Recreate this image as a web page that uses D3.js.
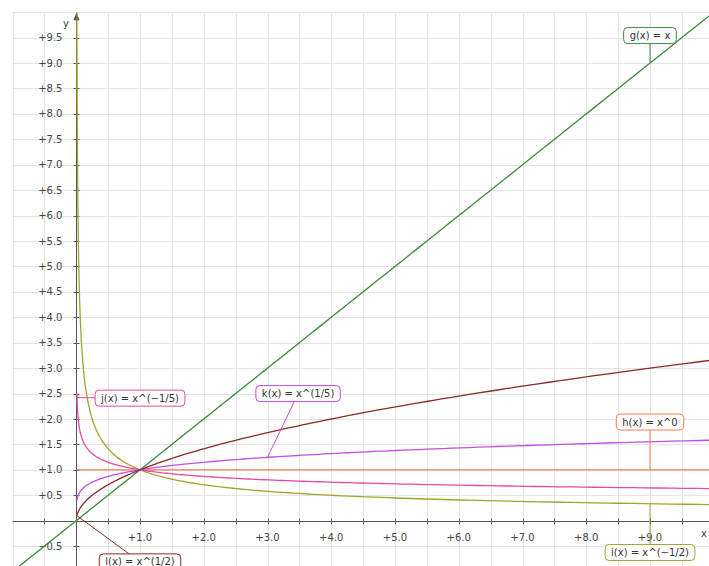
<!DOCTYPE html>
<html><head><meta charset="utf-8">
<script src="https://cdn.jsdelivr.net/npm/d3@7"></script>
<style>
html,body{margin:0;padding:0;background:#fff;}
svg{display:block;font-family:"DejaVu Sans",sans-serif;}
</style></head>
<body>
<svg id="chart" width="709" height="566"></svg>
<script>
// ---- data ----
const names     = ["g", "h", "i", "j", "k", "l"];
const exponents = [1, 0, -0.5, -0.2, 0.2, 0.5];
const labels    = ["g(x) = x", "h(x) = x^0", "i(x) = x^(\u22121/2)", "j(x) = x^(\u22121/5)", "k(x) = x^(1/5)", "l(x) = x^(1/2)"];
const colors    = ["#3c8a3c", "#ef7f55", "#a3a332", "#e64aa2", "#c24ee2", "#8a2a2a"];
const anchorX   = [9, 9, 9, 0.012, 3, 0.01];      // point on curve the label points to (data x)
const labelX    = [9, 9, 9, 1.0, 3.48, 1.0];       // label box centre (data units)
const labelY    = [9.54, 1.94, -0.625, 2.41, 2.5, -0.81];
const xTickLabels = [1, 2, 3, 4, 5, 6, 7, 8, 9];
const yTickLabels = [-0.5, 0.5, 1, 1.5, 2, 2.5, 3, 3.5, 4, 4.5, 5, 5.5, 6, 6.5, 7, 7.5, 8, 8.5, 9, 9.5];
const xMin = 0.01, xMax = 10;

// ---- layout ----
const W = 709, H = 566;
const svg = d3.select("#chart");
const x = d3.scaleLinear().domain([-1, 10]).range([12.5, 12.5 + 11 * 63.75]);
const y = d3.scaleLinear().domain([-1, 10]).range([571.55, 12.2]);
const gridSteps = d3.range(-1, 10.01, 0.5);

// grid
const grid = svg.append("g").attr("stroke", "#e4e4e4").attr("stroke-width", 1);
grid.selectAll("line.v").data(gridSteps).join("line")
  .attr("x1", d => Math.round(x(d)) + 0.5).attr("x2", d => Math.round(x(d)) + 0.5)
  .attr("y1", y(10)).attr("y2", H);
grid.selectAll("line.h").data(gridSteps).join("line")
  .attr("y1", d => Math.round(y(d)) + 0.5).attr("y2", d => Math.round(y(d)) + 0.5)
  .attr("x1", x(-1)).attr("x2", W);

// axes
const axisColor = "#555";
const x0 = Math.round(x(0)) + 0.5, y0 = Math.round(y(0)) + 0.5;
svg.append("line").attr("x1", x(-1)).attr("x2", W).attr("y1", y0).attr("y2", y0).attr("stroke", axisColor);
svg.append("line").attr("x1", x0).attr("x2", x0).attr("y1", H).attr("y2", y(10) + 4).attr("stroke", axisColor);
svg.append("path").attr("d", `M${x0},${y(10)} l-3,8 l6,0 z`).attr("fill", "#444");

const tickSteps = d3.range(-0.5, 9.51, 0.5).filter(d => d !== 0);
svg.append("g").selectAll("line").data(tickSteps).join("line")
  .attr("x1", d => Math.round(x(d)) + 0.5).attr("x2", d => Math.round(x(d)) + 0.5)
  .attr("y1", y0 - 3).attr("y2", y0 + 3).attr("stroke", axisColor);
svg.append("g").selectAll("line").data(tickSteps).join("line")
  .attr("y1", d => Math.round(y(d)) + 0.5).attr("y2", d => Math.round(y(d)) + 0.5)
  .attr("x1", x0 - 3).attr("x2", x0 + 3).attr("stroke", axisColor);

const fmt = d3.format("+.1f");
svg.append("g").attr("font-size", 10).attr("fill", "#444").attr("text-anchor", "middle")
  .selectAll("text").data(xTickLabels).join("text")
  .attr("x", d => x(d)).attr("y", y0 + 19).text(fmt);
svg.append("g").attr("font-size", 10).attr("fill", "#444").attr("text-anchor", "end")
  .selectAll("text").data(yTickLabels).join("text")
  .attr("x", x0 - 14).attr("y", d => y(d)).attr("dy", "0.35em").text(fmt);
svg.append("text").attr("x", 66).attr("y", 27).attr("font-size", 10).attr("fill", "#444")
  .attr("text-anchor", "middle").text("y");
svg.append("text").attr("x", 701).attr("y", 537).attr("font-size", 10).attr("fill", "#444").text("x");

// curves
svg.append("clipPath").attr("id", "clip").append("rect")
  .attr("x", x(-1)).attr("y", y(10)).attr("width", W - x(-1)).attr("height", H - y(10));
const samples = Array.from(new Set([
  ...d3.range(-1, 0.0001, 0.05),
  ...d3.range(-2, 1.0001, 0.01).map(e => Math.pow(10, e))
])).sort((a, b) => a - b);
const line = d3.line().x(d => x(d[0])).y(d => y(d[1]));
const curves = svg.append("g").attr("clip-path", "url(#clip)").attr("fill", "none").attr("stroke-width", 1.3);
names.forEach((n, i) => {
  const p = exponents[i];
  const xs = samples.filter(v => (p === 1 ? v >= -1 : v >= xMin) && v <= xMax);
  curves.append("path").attr("d", line(xs.map(v => [v, Math.pow(v, p)]))).attr("stroke", colors[i]);
});

// labels
const lab = svg.append("g").attr("font-size", 10);
names.forEach((n, i) => {
  const ax = x(anchorX[i]), ay = y(Math.pow(anchorX[i], exponents[i]));
  const cx = x(labelX[i]), cy = y(labelY[i]);
  lab.append("line").attr("x1", ax).attr("y1", ay).attr("x2", cx).attr("y2", cy)
    .attr("stroke", colors[i]).attr("stroke-width", 1);
  const g = lab.append("g");
  const rect = g.append("rect");
  const t = g.append("text").attr("x", cx).attr("y", cy).attr("dy", "0.35em")
    .attr("text-anchor", "middle").attr("fill", "#333").text(labels[i]);
  const tw = t.node().getComputedTextLength();
  rect.attr("x", cx - tw / 2 - 6).attr("y", cy - 8).attr("width", tw + 12).attr("height", 16)
    .attr("rx", 4).attr("fill", "#fff").attr("stroke", colors[i]).attr("stroke-width", 1);
});
</script>
</body></html>
